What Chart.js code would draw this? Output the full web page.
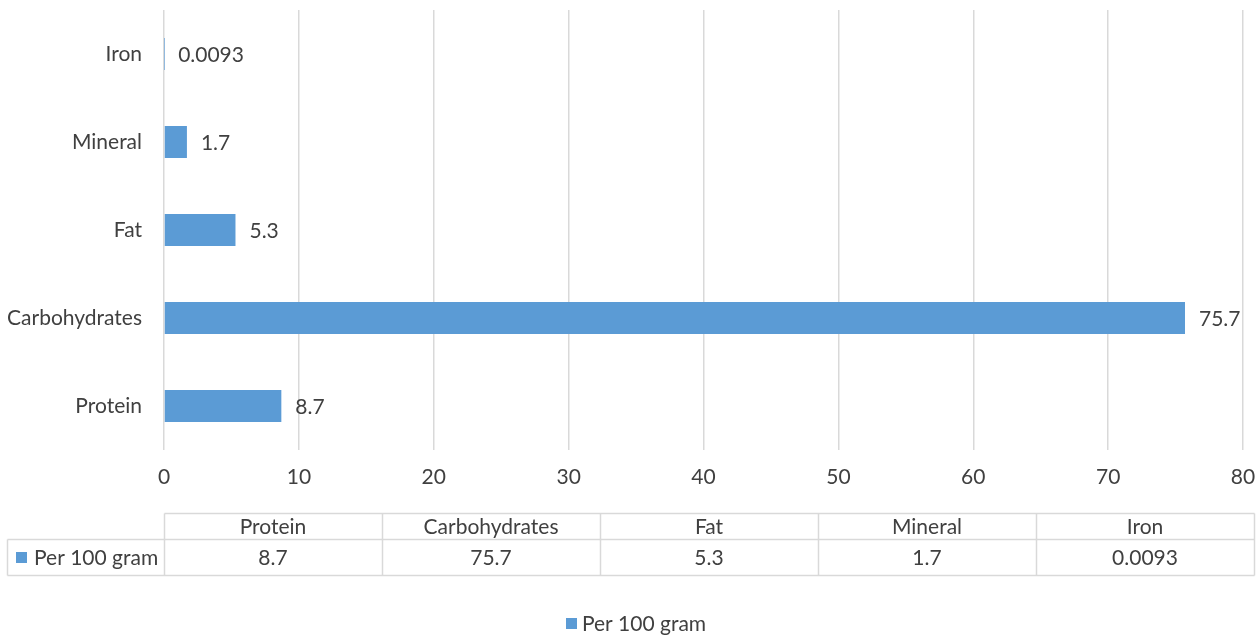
<!DOCTYPE html>
<html>
<head>
<meta charset="utf-8">
<script src="https://cdn.jsdelivr.net/npm/chart.js@4/dist/chart.umd.min.js"></script>
<style>
  html, body { margin: 0; padding: 0; background: #ffffff; }
  canvas { display: block; }
</style>
</head>
<body>
<canvas id="chart" width="1258" height="637"></canvas>
<script>
// Nutrient composition, per 100 gram
const categories = ['Protein', 'Carbohydrates', 'Fat', 'Mineral', 'Iron'];
const seriesName = 'Per 100 gram';
const per100g = [8.7, 75.7, 5.3, 1.7, 0.0093];
const xTickValues = [0, 10, 20, 30, 40, 50, 60, 70, 80];

const FONT = 'Lato, "Open Sans", "Liberation Sans", sans-serif';
const FONT_SIZE = 21;
const TEXT = '#404040';
const GRID = '#d9d9d9';
const BAR = '#5b9bd5';

// Value written just past the end of each bar
const valueLabelPlugin = {
  id: 'valueLabels',
  afterDatasetsDraw(chart) {
    const { ctx } = chart;
    const meta = chart.getDatasetMeta(0);
    ctx.save();
    ctx.font = `${FONT_SIZE}px ${FONT}`;
    ctx.fillStyle = TEXT;
    ctx.textAlign = 'left';
    ctx.textBaseline = 'middle';
    meta.data.forEach((bar, i) => {
      ctx.fillText(String(per100g[i]), bar.x + 14, bar.y + 1);
    });
    ctx.restore();
  }
};

// Data table under the value axis, plus the series key centred at the bottom
const dataTablePlugin = {
  id: 'dataTable',
  afterDraw(chart) {
    const { ctx, chartArea } = chart;
    const left = chartArea.left;
    const right = chart.width - 4;
    const top = chartArea.bottom + 63;
    const headerH = 26;
    const rowH = 36;
    const mid = top + headerH;
    const bottom = mid + rowH;
    const keyLeft = 7;
    const colW = (right - left) / categories.length;
    const px = v => Math.round(v) + 0.5;

    ctx.save();
    ctx.strokeStyle = GRID;
    ctx.lineWidth = 1.5;
    ctx.beginPath();
    ctx.moveTo(px(left), px(top)); ctx.lineTo(px(right), px(top));
    ctx.moveTo(px(keyLeft), px(mid)); ctx.lineTo(px(right), px(mid));
    ctx.moveTo(px(keyLeft), px(bottom)); ctx.lineTo(px(right), px(bottom));
    ctx.moveTo(px(keyLeft), px(mid)); ctx.lineTo(px(keyLeft), px(bottom));
    for (let i = 0; i <= categories.length; i++) {
      const x = px(left + i * colW);
      ctx.moveTo(x, px(top)); ctx.lineTo(x, px(bottom));
    }
    ctx.stroke();

    ctx.font = `${FONT_SIZE}px ${FONT}`;
    ctx.fillStyle = TEXT;
    ctx.textAlign = 'center';
    ctx.textBaseline = 'middle';
    categories.forEach((name, i) => {
      const cx = left + (i + 0.5) * colW;
      ctx.fillText(name, cx, top + headerH / 2 + 1);
      ctx.fillText(String(per100g[i]), cx, mid + rowH / 2 + 1);
    });

    // series key in the table row
    ctx.fillStyle = BAR;
    ctx.fillRect(16, mid + 13, 11, 11);
    ctx.fillStyle = TEXT;
    ctx.textAlign = 'left';
    ctx.fillText(seriesName, 34, mid + rowH / 2 + 1);

    // legend
    const textW = ctx.measureText(seriesName).width;
    const box = 11, gap = 5;
    const legendY = bottom + 48;
    const startX = (chart.width - (box + gap + textW)) / 2 + 7;
    ctx.fillStyle = BAR;
    ctx.fillRect(Math.round(startX), Math.round(legendY - box / 2), box, box);
    ctx.fillStyle = TEXT;
    ctx.fillText(seriesName, startX + box + gap, legendY + 1);
    ctx.restore();
  }
};

new Chart(document.getElementById('chart'), {
  type: 'bar',
  data: {
    labels: categories,
    datasets: [{
      label: seriesName,
      data: per100g,
      backgroundColor: BAR,
      borderWidth: 0,
      barPercentage: 0.364,
      categoryPercentage: 1
    }]
  },
  options: {
    indexAxis: 'y',
    responsive: false,
    animation: false,
    devicePixelRatio: 1,
    layout: { padding: { top: 10, right: 15, bottom: 28, left: 0 } },
    scales: {
      x: {
        min: 0,
        max: 80,
        afterBuildTicks(scale) {
          scale.ticks = xTickValues.map(v => ({ value: v }));
        },
        afterFit(scale) {
          scale.height = 159;
          scale.paddingLeft = 0;
          scale.paddingRight = 0;
        },
        grid: { color: GRID, lineWidth: 1.5, drawTicks: false },
        border: { display: false },
        ticks: {
          color: TEXT,
          font: { family: FONT, size: FONT_SIZE },
          padding: 15,
          maxRotation: 0
        }
      },
      y: {
        reverse: true,
        afterFit(scale) {
          scale.width = 164;
          scale.paddingTop = 0;
          scale.paddingBottom = 0;
        },
        grid: { display: false, drawTicks: false },
        border: { display: false },
        ticks: {
          color: TEXT,
          font: { family: FONT, size: FONT_SIZE },
          padding: 22
        }
      }
    },
    plugins: {
      legend: { display: false },
      tooltip: { enabled: false }
    }
  },
  plugins: [valueLabelPlugin, dataTablePlugin]
});
</script>
</body>
</html>
